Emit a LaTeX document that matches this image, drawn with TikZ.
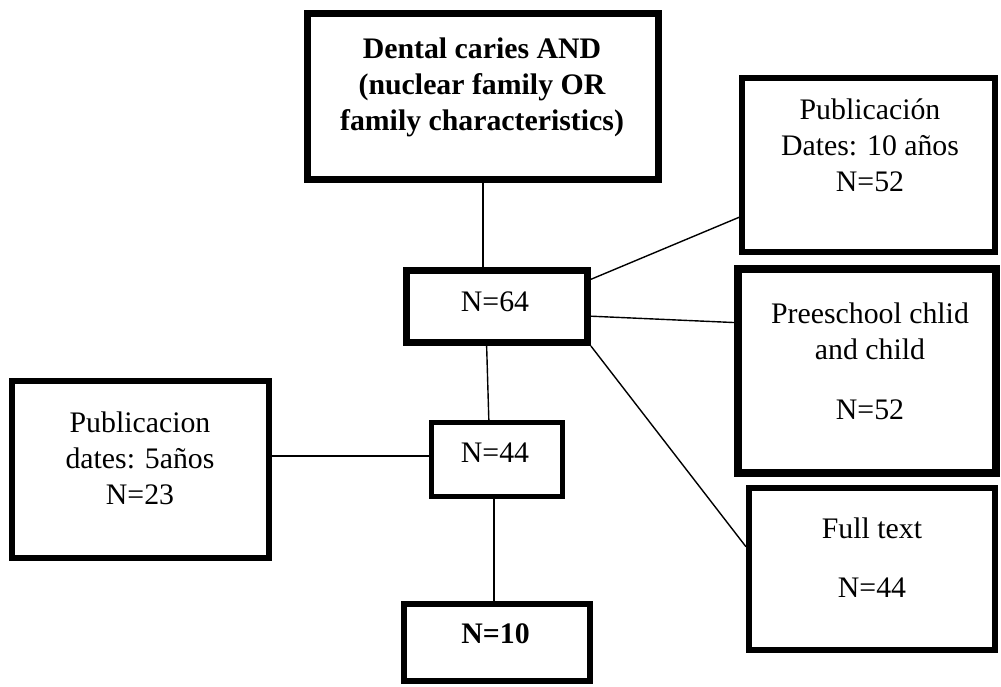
\documentclass[tikz,border=0pt]{standalone}
\usepackage{fontspec}
\setmainfont{Liberation Serif}
\usetikzlibrary{calc}

\begin{document}
\begin{tikzpicture}[x=.5pt,y=-.5pt,
  box/.style={draw,line width=3pt,inner sep=0pt},
  txt/.style={align=center,inner sep=0pt,font=\fontsize{14.9pt}{18pt}\selectfont},
  link/.style={line width=.7pt}]
        \useasboundingbox (0,0) rectangle (1001,686);
        \node[box,line width=3.5pt,minimum width=175.5pt,minimum height=83pt] (query) at (483,96.5) {};
        \node[txt,font=\fontsize{14.9pt}{18pt}\selectfont\bfseries] (querytxt) at (482,87) {Dental caries AND\\(nuclear family OR\\family characteristics)};
        \node[box,line width=3.5pt,minimum width=90.6pt,minimum height=36.2pt] (n64) at (496.8,306.3) {};
        \node[txt] (n64txt) at (495,302) {N=64};
        \node[box,minimum width=126.5pt,minimum height=87pt] (pub10) at (868.5,165) {};
        \node[txt] (pub10txt) at (870,145) {Publicación\\Dates: 10 años\\N=52};
        \node[box,line width=4.2pt,minimum width=129pt,minimum height=102pt] (preschool) at (867,371) {};
        \node[txt] (preschooltxt) at (870,361) {Preeschool chlid\\and child\\[12pt]N=52};
        \node[box,minimum width=123pt,minimum height=81pt] (fulltext) at (872,569) {};
        \node[txt] (fulltexttxt) at (872,557.5) {Full text\\[11.5pt]N=44};
        \node[box,line width=2.8pt,minimum width=128.5pt,minimum height=88.5pt] (pub5) at (140.5,469.5) {};
        \node[txt] (pub5txt) at (140,458.5) {Publicacion\\dates: 5años\\N=23};
        \node[box,line width=2.6pt,minimum width=65.5pt,minimum height=37pt] (n44) at (497,459.5) {};
        \node[txt] (n44txt) at (495,453) {N=44};
        \node[box,minimum width=93pt,minimum height=38.5pt] (n10) at (497,642) {};
        \node[txt,font=\fontsize{14.9pt}{18pt}\selectfont\bfseries] (n10txt) at (495.5,634) {N=10};
        \draw[link] (query.south) -- (query.south |- n64.north);
        \draw[link] ($(n64.south west)!.446!(n64.south east)$) -- ($(n44.north west)!.44!(n44.north east)$);
        \draw[link] ($(n44.south west)!.477!(n44.south east)$) coordinate (n44foot) -- (n44foot |- n10.north);
        \draw[link] ([yshift=1.75pt]n44.west) -- ([yshift=1.75pt]n44.west -| pub5.east);
        \draw[link] (n64.16) -- (pub10.202);
        \draw[link] (n64.-6) -- (preschool.160);
        \draw[link] (n64.south east) -- (fulltext.170);
      \end{tikzpicture}
\end{document}
